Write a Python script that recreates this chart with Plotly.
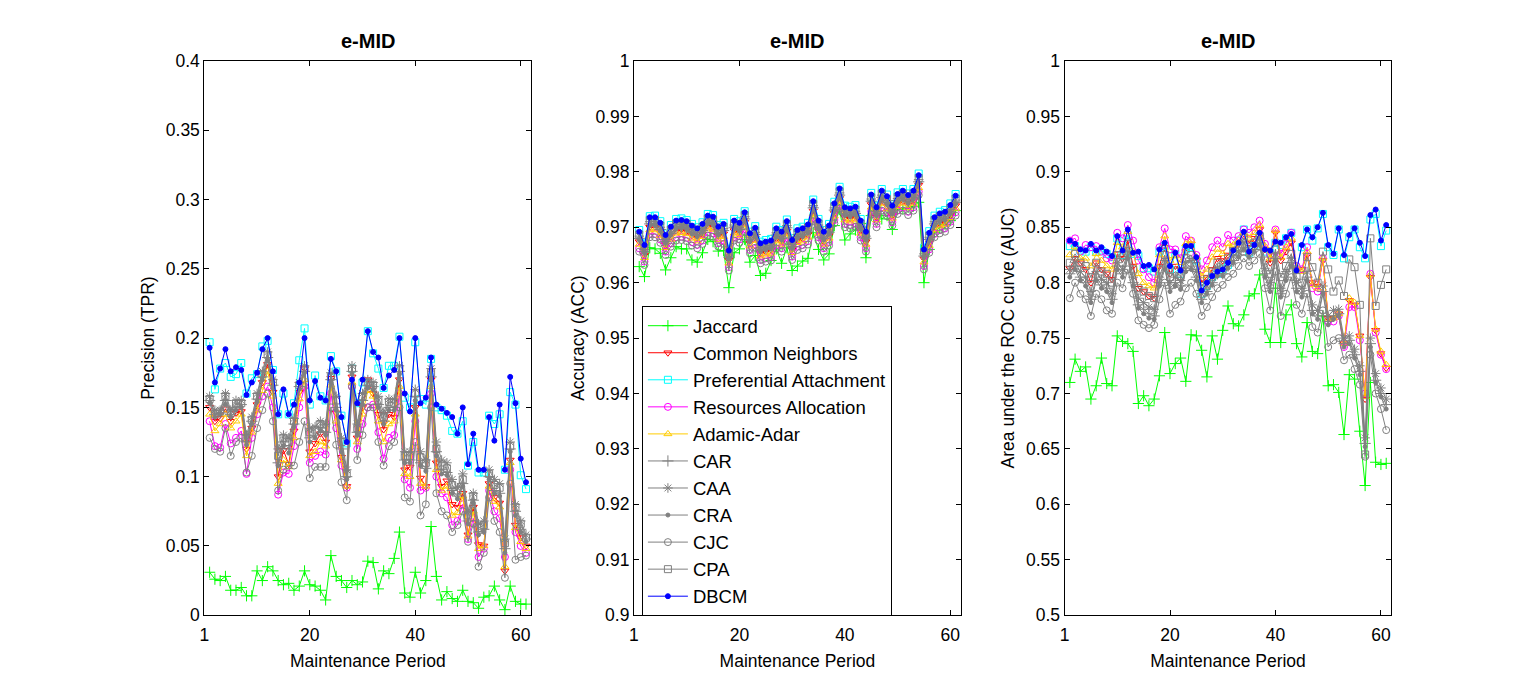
import plotly.graph_objects as go

# x axis: maintenance periods
periods = list(range(1, 62))

methods = ["Jaccard", "Common Neighbors", "Preferential Attachment",
           "Resources Allocation", "Adamic-Adar", "CAR", "CAA", "CRA",
           "CJC", "CPA", "DBCM"]

# ---------------- Precision (TPR) ----------------
prec_jaccard = [0.031, 0.026, 0.025, 0.028, 0.018, 0.018, 0.020, 0.014, 0.014, 0.032,
                0.025, 0.035, 0.032, 0.025, 0.022, 0.023, 0.018, 0.021, 0.032, 0.022,
                0.021, 0.018, 0.011, 0.043, 0.028, 0.025, 0.020, 0.025, 0.022, 0.024,
                0.039, 0.038, 0.019, 0.032, 0.030, 0.041, 0.060, 0.016, 0.013, 0.031,
                0.016, 0.025, 0.064, 0.028, 0.011, 0.017, 0.012, 0.010, 0.018, 0.010,
                0.009, 0.005, 0.013, 0.014, 0.021, 0.011, 0.004, 0.021, 0.010, 0.008, 0.008]
prec_cn = [0.150, 0.140, 0.142, 0.149, 0.140, 0.146, 0.147, 0.120, 0.135, 0.152,
           0.168, 0.181, 0.161, 0.100, 0.119, 0.109, 0.133, 0.161, 0.178, 0.118,
           0.124, 0.131, 0.125, 0.171, 0.146, 0.114, 0.093, 0.172, 0.128, 0.150,
           0.170, 0.160, 0.145, 0.134, 0.145, 0.143, 0.170, 0.105, 0.107, 0.150,
           0.099, 0.093, 0.170, 0.110, 0.093, 0.097, 0.080, 0.078, 0.088, 0.058,
           0.078, 0.051, 0.050, 0.095, 0.085, 0.081, 0.032, 0.112, 0.065, 0.056, 0.050]
prec_pa = [0.197, 0.163, 0.178, 0.182, 0.172, 0.174, 0.182, 0.160, 0.171, 0.174,
           0.194, 0.198, 0.177, 0.145, 0.160, 0.145, 0.153, 0.184, 0.207, 0.152,
           0.173, 0.158, 0.155, 0.187, 0.176, 0.144, 0.124, 0.178, 0.153, 0.168,
           0.205, 0.189, 0.178, 0.164, 0.180, 0.180, 0.201, 0.157, 0.150, 0.197,
           0.156, 0.152, 0.185, 0.150, 0.148, 0.144, 0.133, 0.131, 0.140, 0.108,
           0.125, 0.103, 0.103, 0.144, 0.138, 0.145, 0.105, 0.161, 0.152, 0.101, 0.091]
prec_ra = [0.140, 0.122, 0.121, 0.138, 0.124, 0.128, 0.133, 0.102, 0.128, 0.145,
           0.158, 0.165, 0.150, 0.087, 0.103, 0.102, 0.122, 0.150, 0.165, 0.110,
           0.115, 0.118, 0.116, 0.160, 0.135, 0.108, 0.092, 0.165, 0.120, 0.138,
           0.150, 0.152, 0.132, 0.113, 0.128, 0.130, 0.160, 0.098, 0.092, 0.140,
           0.090, 0.092, 0.160, 0.100, 0.088, 0.085, 0.065, 0.068, 0.080, 0.055,
           0.070, 0.042, 0.048, 0.090, 0.075, 0.070, 0.042, 0.105, 0.060, 0.050, 0.045]
prec_aa = [0.145, 0.133, 0.138, 0.145, 0.135, 0.140, 0.145, 0.115, 0.132, 0.148,
           0.162, 0.176, 0.158, 0.095, 0.112, 0.107, 0.128, 0.156, 0.170, 0.115,
           0.118, 0.125, 0.122, 0.166, 0.140, 0.112, 0.093, 0.168, 0.125, 0.145,
           0.162, 0.158, 0.140, 0.125, 0.138, 0.140, 0.165, 0.102, 0.100, 0.145,
           0.095, 0.093, 0.165, 0.105, 0.090, 0.093, 0.072, 0.074, 0.086, 0.057,
           0.075, 0.048, 0.050, 0.093, 0.082, 0.078, 0.035, 0.110, 0.063, 0.053, 0.048]
prec_car = [0.155, 0.145, 0.146, 0.155, 0.145, 0.150, 0.152, 0.125, 0.140, 0.156,
            0.172, 0.186, 0.166, 0.110, 0.125, 0.120, 0.138, 0.165, 0.176, 0.128,
            0.130, 0.135, 0.132, 0.170, 0.150, 0.120, 0.100, 0.176, 0.132, 0.155,
            0.166, 0.165, 0.152, 0.140, 0.150, 0.150, 0.176, 0.112, 0.112, 0.158,
            0.110, 0.106, 0.172, 0.118, 0.105, 0.103, 0.090, 0.086, 0.095, 0.068,
            0.083, 0.060, 0.062, 0.100, 0.090, 0.088, 0.048, 0.120, 0.075, 0.062, 0.055]
prec_caa = [0.158, 0.148, 0.148, 0.160, 0.148, 0.155, 0.155, 0.130, 0.143, 0.160,
            0.176, 0.190, 0.170, 0.120, 0.130, 0.128, 0.142, 0.168, 0.180, 0.135,
            0.136, 0.140, 0.138, 0.175, 0.158, 0.128, 0.105, 0.180, 0.138, 0.160,
            0.170, 0.168, 0.158, 0.146, 0.156, 0.156, 0.180, 0.118, 0.118, 0.163,
            0.118, 0.112, 0.178, 0.125, 0.112, 0.110, 0.098, 0.092, 0.102, 0.075,
            0.088, 0.066, 0.068, 0.105, 0.098, 0.095, 0.055, 0.125, 0.080, 0.068, 0.058]
prec_cra = [0.153, 0.143, 0.145, 0.152, 0.143, 0.148, 0.150, 0.123, 0.138, 0.154,
            0.170, 0.184, 0.164, 0.108, 0.122, 0.117, 0.136, 0.163, 0.175, 0.125,
            0.128, 0.133, 0.130, 0.168, 0.148, 0.118, 0.098, 0.174, 0.130, 0.152,
            0.164, 0.163, 0.150, 0.138, 0.148, 0.148, 0.174, 0.110, 0.110, 0.155,
            0.108, 0.104, 0.170, 0.115, 0.102, 0.101, 0.088, 0.084, 0.093, 0.066,
            0.081, 0.058, 0.060, 0.098, 0.088, 0.086, 0.045, 0.118, 0.072, 0.060, 0.053]
prec_cjc = [0.128, 0.120, 0.118, 0.135, 0.115, 0.125, 0.128, 0.103, 0.115, 0.135,
            0.148, 0.160, 0.140, 0.090, 0.105, 0.108, 0.108, 0.125, 0.140, 0.099,
            0.107, 0.107, 0.107, 0.150, 0.123, 0.096, 0.083, 0.165, 0.112, 0.130,
            0.150, 0.150, 0.125, 0.108, 0.122, 0.125, 0.150, 0.085, 0.082, 0.125,
            0.072, 0.080, 0.150, 0.088, 0.075, 0.072, 0.060, 0.065, 0.075, 0.053,
            0.066, 0.035, 0.045, 0.085, 0.068, 0.060, 0.027, 0.095, 0.040, 0.042, 0.043]
prec_cpa = [0.156, 0.145, 0.147, 0.158, 0.146, 0.153, 0.153, 0.128, 0.141, 0.158,
            0.174, 0.188, 0.168, 0.115, 0.128, 0.125, 0.140, 0.166, 0.178, 0.132,
            0.134, 0.138, 0.135, 0.172, 0.155, 0.125, 0.102, 0.178, 0.135, 0.158,
            0.168, 0.166, 0.155, 0.143, 0.154, 0.153, 0.178, 0.115, 0.115, 0.160,
            0.114, 0.110, 0.175, 0.120, 0.108, 0.106, 0.094, 0.090, 0.098, 0.072,
            0.086, 0.063, 0.065, 0.102, 0.094, 0.092, 0.052, 0.122, 0.078, 0.066, 0.056]
prec_dbcm = [0.193, 0.168, 0.178, 0.192, 0.176, 0.179, 0.177, 0.159, 0.168, 0.175,
             0.192, 0.200, 0.176, 0.145, 0.163, 0.145, 0.152, 0.168, 0.200, 0.155,
             0.169, 0.157, 0.155, 0.185, 0.176, 0.143, 0.125, 0.170, 0.153, 0.170,
             0.205, 0.190, 0.186, 0.164, 0.173, 0.177, 0.200, 0.160, 0.147, 0.200,
             0.153, 0.157, 0.186, 0.152, 0.149, 0.146, 0.143, 0.131, 0.150, 0.109,
             0.131, 0.105, 0.105, 0.143, 0.126, 0.152, 0.105, 0.172, 0.153, 0.113, 0.096]

# ---------------- Accuracy (ACC) ----------------
acc_jaccard = [0.9629, 0.9611, 0.9663, 0.9661, 0.9653, 0.9623, 0.9645, 0.9665, 0.9661, 0.9661,
               0.9641, 0.9637, 0.9654, 0.9678, 0.9674, 0.9657, 0.9658, 0.9591, 0.9654, 0.9661,
               0.9678, 0.9637, 0.9649, 0.9613, 0.9617, 0.9640, 0.9661, 0.9635, 0.9663, 0.9622,
               0.9630, 0.9639, 0.9644, 0.9690, 0.9660, 0.9641, 0.9652, 0.9703, 0.9732, 0.9677,
               0.9688, 0.9695, 0.9707, 0.9645, 0.9721, 0.9729, 0.9715, 0.9721, 0.9696, 0.9733,
               0.9733, 0.9736, 0.9738, 0.9745, 0.9600, 0.9660, 0.9690, 0.9700, 0.9705, 0.9712, 0.9730]
acc_cn = [0.9674, 0.9650, 0.9700, 0.9700, 0.9690, 0.9668, 0.9683, 0.9694, 0.9696, 0.9693,
          0.9685, 0.9681, 0.9688, 0.9703, 0.9701, 0.9684, 0.9688, 0.9641, 0.9694, 0.9690,
          0.9709, 0.9671, 0.9681, 0.9653, 0.9656, 0.9659, 0.9680, 0.9674, 0.9693, 0.9660,
          0.9677, 0.9680, 0.9687, 0.9729, 0.9694, 0.9674, 0.9685, 0.9725, 0.9752, 0.9718,
          0.9716, 0.9719, 0.9694, 0.9674, 0.9741, 0.9718, 0.9748, 0.9738, 0.9721, 0.9742,
          0.9748, 0.9740, 0.9748, 0.9776, 0.9643, 0.9672, 0.9700, 0.9707, 0.9710, 0.9722, 0.9739]
acc_pa = [0.9695, 0.9671, 0.9720, 0.9721, 0.9711, 0.9689, 0.9704, 0.9715, 0.9716, 0.9713,
          0.9706, 0.9700, 0.9709, 0.9724, 0.9722, 0.9704, 0.9708, 0.9661, 0.9715, 0.9711,
          0.9729, 0.9692, 0.9702, 0.9674, 0.9677, 0.9679, 0.9701, 0.9695, 0.9714, 0.9680,
          0.9698, 0.9701, 0.9708, 0.9750, 0.9715, 0.9695, 0.9706, 0.9746, 0.9773, 0.9739,
          0.9737, 0.9740, 0.9715, 0.9695, 0.9762, 0.9739, 0.9769, 0.9759, 0.9742, 0.9763,
          0.9769, 0.9761, 0.9769, 0.9797, 0.9663, 0.9693, 0.9721, 0.9728, 0.9731, 0.9743, 0.9760]
acc_ra = [0.9662, 0.9638, 0.9688, 0.9688, 0.9678, 0.9656, 0.9671, 0.9682, 0.9683, 0.9681,
          0.9673, 0.9668, 0.9676, 0.9691, 0.9689, 0.9671, 0.9676, 0.9628, 0.9682, 0.9678,
          0.9697, 0.9659, 0.9669, 0.9641, 0.9644, 0.9646, 0.9668, 0.9662, 0.9681, 0.9647,
          0.9665, 0.9668, 0.9675, 0.9717, 0.9682, 0.9662, 0.9673, 0.9713, 0.9740, 0.9706,
          0.9704, 0.9707, 0.9682, 0.9662, 0.9729, 0.9706, 0.9736, 0.9726, 0.9709, 0.9730,
          0.9736, 0.9728, 0.9736, 0.9764, 0.9630, 0.9660, 0.9688, 0.9695, 0.9698, 0.9710, 0.9727]
acc_aa = [0.9669, 0.9645, 0.9695, 0.9695, 0.9685, 0.9663, 0.9678, 0.9689, 0.9690, 0.9688,
          0.9680, 0.9675, 0.9683, 0.9698, 0.9696, 0.9678, 0.9683, 0.9635, 0.9689, 0.9685,
          0.9704, 0.9666, 0.9676, 0.9648, 0.9651, 0.9653, 0.9675, 0.9669, 0.9688, 0.9654,
          0.9672, 0.9675, 0.9682, 0.9724, 0.9689, 0.9669, 0.9680, 0.9720, 0.9747, 0.9713,
          0.9711, 0.9714, 0.9689, 0.9669, 0.9736, 0.9713, 0.9743, 0.9733, 0.9716, 0.9737,
          0.9743, 0.9735, 0.9743, 0.9771, 0.9637, 0.9667, 0.9695, 0.9702, 0.9705, 0.9717, 0.9734]
acc_car = [0.9680, 0.9656, 0.9706, 0.9706, 0.9696, 0.9674, 0.9689, 0.9700, 0.9701, 0.9699,
           0.9691, 0.9686, 0.9694, 0.9709, 0.9707, 0.9689, 0.9694, 0.9646, 0.9700, 0.9696,
           0.9715, 0.9677, 0.9687, 0.9659, 0.9662, 0.9664, 0.9686, 0.9680, 0.9699, 0.9665,
           0.9683, 0.9686, 0.9693, 0.9735, 0.9700, 0.9680, 0.9691, 0.9731, 0.9758, 0.9724,
           0.9722, 0.9725, 0.9700, 0.9680, 0.9747, 0.9724, 0.9754, 0.9744, 0.9727, 0.9748,
           0.9754, 0.9746, 0.9754, 0.9782, 0.9648, 0.9678, 0.9706, 0.9713, 0.9716, 0.9728, 0.9745]
acc_caa = [0.9684, 0.9660, 0.9710, 0.9710, 0.9700, 0.9678, 0.9693, 0.9704, 0.9705, 0.9703,
           0.9695, 0.9690, 0.9698, 0.9713, 0.9711, 0.9693, 0.9698, 0.9650, 0.9704, 0.9700,
           0.9719, 0.9681, 0.9691, 0.9663, 0.9666, 0.9668, 0.9690, 0.9684, 0.9703, 0.9669,
           0.9687, 0.9690, 0.9697, 0.9739, 0.9704, 0.9684, 0.9695, 0.9735, 0.9762, 0.9728,
           0.9726, 0.9729, 0.9704, 0.9684, 0.9751, 0.9728, 0.9758, 0.9748, 0.9731, 0.9752,
           0.9758, 0.9750, 0.9758, 0.9786, 0.9652, 0.9682, 0.9710, 0.9717, 0.9720, 0.9732, 0.9749]
acc_cra = [0.9677, 0.9653, 0.9703, 0.9703, 0.9693, 0.9671, 0.9686, 0.9697, 0.9698, 0.9696,
           0.9688, 0.9683, 0.9691, 0.9706, 0.9704, 0.9686, 0.9691, 0.9643, 0.9697, 0.9693,
           0.9712, 0.9674, 0.9684, 0.9656, 0.9659, 0.9661, 0.9683, 0.9677, 0.9696, 0.9662,
           0.9680, 0.9683, 0.9690, 0.9732, 0.9697, 0.9677, 0.9688, 0.9728, 0.9755, 0.9721,
           0.9719, 0.9722, 0.9697, 0.9677, 0.9744, 0.9721, 0.9751, 0.9741, 0.9724, 0.9745,
           0.9751, 0.9743, 0.9751, 0.9779, 0.9645, 0.9675, 0.9703, 0.9710, 0.9713, 0.9725, 0.9742]
acc_cjc = [0.9656, 0.9632, 0.9682, 0.9682, 0.9672, 0.9650, 0.9665, 0.9676, 0.9677, 0.9675,
           0.9667, 0.9662, 0.9670, 0.9685, 0.9683, 0.9665, 0.9670, 0.9622, 0.9676, 0.9672,
           0.9691, 0.9653, 0.9663, 0.9635, 0.9638, 0.9640, 0.9662, 0.9656, 0.9675, 0.9641,
           0.9659, 0.9662, 0.9669, 0.9711, 0.9676, 0.9656, 0.9667, 0.9707, 0.9734, 0.9700,
           0.9698, 0.9701, 0.9676, 0.9656, 0.9723, 0.9700, 0.9730, 0.9720, 0.9703, 0.9724,
           0.9730, 0.9722, 0.9730, 0.9758, 0.9624, 0.9654, 0.9682, 0.9689, 0.9692, 0.9704, 0.9721]
acc_cpa = [0.9687, 0.9663, 0.9713, 0.9713, 0.9703, 0.9681, 0.9696, 0.9707, 0.9708, 0.9706,
           0.9698, 0.9693, 0.9701, 0.9716, 0.9714, 0.9696, 0.9701, 0.9653, 0.9707, 0.9703,
           0.9722, 0.9684, 0.9694, 0.9666, 0.9669, 0.9671, 0.9693, 0.9687, 0.9706, 0.9672,
           0.9690, 0.9693, 0.9700, 0.9742, 0.9707, 0.9687, 0.9698, 0.9738, 0.9765, 0.9731,
           0.9729, 0.9732, 0.9707, 0.9687, 0.9754, 0.9731, 0.9761, 0.9751, 0.9734, 0.9755,
           0.9761, 0.9753, 0.9761, 0.9789, 0.9655, 0.9685, 0.9713, 0.9720, 0.9723, 0.9735, 0.9752]
acc_dbcm = [0.9692, 0.9668, 0.9718, 0.9718, 0.9708, 0.9686, 0.9701, 0.9712, 0.9713, 0.9711,
            0.9703, 0.9698, 0.9706, 0.9721, 0.9719, 0.9701, 0.9706, 0.9658, 0.9712, 0.9708,
            0.9727, 0.9689, 0.9699, 0.9671, 0.9674, 0.9676, 0.9698, 0.9692, 0.9711, 0.9677,
            0.9695, 0.9698, 0.9705, 0.9747, 0.9712, 0.9692, 0.9703, 0.9743, 0.9770, 0.9736,
            0.9734, 0.9737, 0.9712, 0.9692, 0.9759, 0.9736, 0.9766, 0.9756, 0.9739, 0.9760,
            0.9766, 0.9758, 0.9766, 0.9794, 0.9660, 0.9690, 0.9718, 0.9725, 0.9728, 0.9740, 0.9757]

# ---------------- AUC ----------------
auc_jaccard = [0.710, 0.731, 0.720, 0.724, 0.695, 0.707, 0.732, 0.709, 0.707, 0.752,
               0.747, 0.745, 0.738, 0.691, 0.698, 0.689, 0.695, 0.716, 0.755, 0.718,
               0.727, 0.732, 0.711, 0.753, 0.752, 0.739, 0.715, 0.752, 0.731, 0.757,
               0.779, 0.763, 0.761, 0.771, 0.788, 0.790, 0.807, 0.758, 0.746, 0.795,
               0.746, 0.771, 0.780, 0.745, 0.733, 0.764, 0.738, 0.736, 0.770, 0.707,
               0.708, 0.701, 0.663, 0.717, 0.713, 0.666, 0.617, 0.710, 0.638, 0.636, 0.637]
auc_cn = [0.813, 0.822, 0.818, 0.812, 0.800, 0.818, 0.812, 0.808, 0.803, 0.826,
          0.822, 0.838, 0.815, 0.795, 0.792, 0.788, 0.786, 0.815, 0.832, 0.808,
          0.815, 0.812, 0.828, 0.835, 0.820, 0.800, 0.805, 0.812, 0.822, 0.820,
          0.825, 0.830, 0.835, 0.842, 0.836, 0.840, 0.848, 0.830, 0.818, 0.845,
          0.820, 0.828, 0.836, 0.812, 0.812, 0.825, 0.800, 0.797, 0.820, 0.768,
          0.768, 0.772, 0.745, 0.784, 0.780, 0.752, 0.695, 0.805, 0.757, 0.736, 0.723]
auc_pa = [0.833, 0.833, 0.829, 0.828, 0.832, 0.828, 0.829, 0.826, 0.823, 0.840,
          0.825, 0.843, 0.826, 0.824, 0.813, 0.813, 0.810, 0.828, 0.833, 0.812,
          0.826, 0.808, 0.830, 0.832, 0.820, 0.790, 0.797, 0.805, 0.808, 0.812,
          0.816, 0.828, 0.838, 0.848, 0.827, 0.833, 0.842, 0.828, 0.827, 0.836,
          0.834, 0.840, 0.845, 0.812, 0.832, 0.848, 0.838, 0.849, 0.862, 0.832,
          0.825, 0.848, 0.822, 0.841, 0.848, 0.832, 0.822, 0.857, 0.862, 0.833, 0.847]
auc_ra = [0.838, 0.840, 0.828, 0.834, 0.832, 0.833, 0.828, 0.822, 0.820, 0.845,
          0.840, 0.852, 0.838, 0.820, 0.812, 0.805, 0.800, 0.832, 0.849, 0.830,
          0.830, 0.822, 0.842, 0.838, 0.825, 0.812, 0.820, 0.832, 0.838, 0.832,
          0.843, 0.838, 0.842, 0.848, 0.845, 0.850, 0.856, 0.835, 0.825, 0.848,
          0.826, 0.835, 0.845, 0.815, 0.812, 0.832, 0.795, 0.792, 0.822, 0.765,
          0.765, 0.770, 0.742, 0.778, 0.778, 0.748, 0.700, 0.808, 0.755, 0.735, 0.722]
auc_aa = [0.825, 0.832, 0.822, 0.822, 0.815, 0.826, 0.820, 0.815, 0.812, 0.836,
          0.832, 0.846, 0.828, 0.808, 0.800, 0.797, 0.795, 0.825, 0.842, 0.820,
          0.824, 0.818, 0.835, 0.838, 0.823, 0.806, 0.812, 0.823, 0.830, 0.826,
          0.835, 0.834, 0.838, 0.845, 0.840, 0.845, 0.852, 0.833, 0.822, 0.847,
          0.823, 0.832, 0.840, 0.814, 0.810, 0.828, 0.798, 0.795, 0.822, 0.767,
          0.768, 0.772, 0.745, 0.786, 0.782, 0.752, 0.697, 0.807, 0.758, 0.738, 0.726]
auc_car = [0.808, 0.815, 0.805, 0.800, 0.785, 0.805, 0.798, 0.795, 0.785, 0.815,
           0.808, 0.825, 0.800, 0.780, 0.776, 0.772, 0.770, 0.800, 0.815, 0.795,
           0.800, 0.797, 0.813, 0.815, 0.805, 0.785, 0.792, 0.800, 0.808, 0.808,
           0.815, 0.820, 0.825, 0.832, 0.825, 0.830, 0.836, 0.808, 0.795, 0.822,
           0.790, 0.805, 0.818, 0.795, 0.790, 0.805, 0.775, 0.770, 0.792, 0.765,
           0.770, 0.772, 0.745, 0.748, 0.735, 0.720, 0.655, 0.745, 0.712, 0.700, 0.690]
auc_caa = [0.812, 0.818, 0.810, 0.805, 0.792, 0.810, 0.803, 0.800, 0.790, 0.818,
           0.812, 0.828, 0.805, 0.786, 0.782, 0.778, 0.776, 0.805, 0.820, 0.800,
           0.805, 0.802, 0.818, 0.820, 0.810, 0.790, 0.797, 0.805, 0.813, 0.812,
           0.818, 0.824, 0.828, 0.836, 0.828, 0.833, 0.840, 0.813, 0.800, 0.826,
           0.795, 0.810, 0.822, 0.800, 0.795, 0.810, 0.780, 0.775, 0.797, 0.770,
           0.775, 0.776, 0.750, 0.752, 0.740, 0.725, 0.660, 0.750, 0.718, 0.705, 0.695]
auc_cra = [0.805, 0.812, 0.802, 0.797, 0.782, 0.802, 0.795, 0.792, 0.782, 0.812,
           0.805, 0.822, 0.797, 0.777, 0.772, 0.768, 0.767, 0.797, 0.812, 0.792,
           0.797, 0.794, 0.810, 0.812, 0.802, 0.782, 0.790, 0.798, 0.806, 0.806,
           0.813, 0.818, 0.823, 0.830, 0.823, 0.828, 0.834, 0.805, 0.792, 0.820,
           0.787, 0.802, 0.815, 0.792, 0.787, 0.802, 0.772, 0.767, 0.790, 0.762,
           0.767, 0.770, 0.742, 0.745, 0.732, 0.717, 0.652, 0.742, 0.710, 0.697, 0.686]
auc_cjc = [0.786, 0.800, 0.790, 0.785, 0.770, 0.790, 0.785, 0.775, 0.772, 0.800,
           0.795, 0.812, 0.790, 0.766, 0.762, 0.759, 0.762, 0.785, 0.800, 0.772,
           0.780, 0.783, 0.795, 0.800, 0.790, 0.770, 0.778, 0.787, 0.795, 0.798,
           0.805, 0.808, 0.815, 0.822, 0.815, 0.820, 0.826, 0.795, 0.775, 0.810,
           0.770, 0.790, 0.805, 0.780, 0.772, 0.790, 0.760, 0.755, 0.775, 0.742,
           0.748, 0.750, 0.730, 0.735, 0.722, 0.708, 0.643, 0.735, 0.700, 0.686, 0.667]
auc_cpa = [0.818, 0.826, 0.818, 0.815, 0.805, 0.818, 0.810, 0.808, 0.800, 0.825,
           0.818, 0.835, 0.812, 0.795, 0.792, 0.788, 0.786, 0.812, 0.825, 0.805,
           0.810, 0.806, 0.822, 0.825, 0.815, 0.797, 0.803, 0.810, 0.818, 0.816,
           0.822, 0.828, 0.832, 0.840, 0.832, 0.836, 0.842, 0.820, 0.808, 0.830,
           0.805, 0.815, 0.826, 0.805, 0.800, 0.823, 0.814, 0.800, 0.828, 0.812,
           0.792, 0.802, 0.788, 0.821, 0.814, 0.780, 0.645, 0.840, 0.779, 0.798, 0.812]
auc_dbcm = [0.838, 0.835, 0.830, 0.829, 0.835, 0.829, 0.832, 0.828, 0.824, 0.842,
            0.829, 0.848, 0.827, 0.828, 0.815, 0.816, 0.812, 0.830, 0.836, 0.815,
            0.827, 0.811, 0.833, 0.833, 0.823, 0.793, 0.800, 0.806, 0.810, 0.812,
            0.818, 0.829, 0.836, 0.846, 0.828, 0.834, 0.845, 0.830, 0.829, 0.837,
            0.836, 0.841, 0.844, 0.811, 0.834, 0.848, 0.841, 0.850, 0.863, 0.834,
            0.826, 0.849, 0.825, 0.843, 0.849, 0.836, 0.824, 0.861, 0.866, 0.838, 0.852]

# y axis ticks for the three panels
prec_ticks = [0, 0.05, 0.1, 0.15, 0.2, 0.25, 0.3, 0.35, 0.4]
prec_labels = ["0", "0.05", "0.1", "0.15", "0.2", "0.25", "0.3", "0.35", "0.4"]
acc_ticks = [0.9, 0.91, 0.92, 0.93, 0.94, 0.95, 0.96, 0.97, 0.98, 0.99, 1]
acc_labels = ["0.9", "0.91", "0.92", "0.93", "0.94", "0.95", "0.96", "0.97", "0.98", "0.99", "1"]
auc_ticks = [0.5, 0.55, 0.6, 0.65, 0.7, 0.75, 0.8, 0.85, 0.9, 0.95, 1]
auc_labels = ["0.5", "0.55", "0.6", "0.65", "0.7", "0.75", "0.8", "0.85", "0.9", "0.95", "1"]
# the left edge tick carries the label "1"
period_ticks = [0, 20, 40, 60]
period_labels = ["1", "20", "40", "60"]

# MATLAB-like line styles for each method
styles = {
    "Jaccard": ("#00ff00", "cross-thin-open", 8),
    "Common Neighbors": ("#ff0000", "triangle-down-open", 7),
    "Preferential Attachment": ("#00ffff", "square-open", 7),
    "Resources Allocation": ("#ff00ff", "circle-open", 7),
    "Adamic-Adar": ("#ffcc00", "triangle-up-open", 7),
    "CAR": ("#808080", "cross-thin-open", 8),
    "CAA": ("#808080", "asterisk-open", 8),
    "CRA": ("#808080", "circle", 4),
    "CJC": ("#808080", "circle-open", 7),
    "CPA": ("#808080", "square-open", 7),
    "DBCM": ("#0000ff", "circle", 5),
}

panels = [
    ("x", "y", [prec_jaccard, prec_cn, prec_pa, prec_ra, prec_aa, prec_car,
                prec_caa, prec_cra, prec_cjc, prec_cpa, prec_dbcm], False),
    ("x2", "y2", [acc_jaccard, acc_cn, acc_pa, acc_ra, acc_aa, acc_car,
                  acc_caa, acc_cra, acc_cjc, acc_cpa, acc_dbcm], True),
    ("x3", "y3", [auc_jaccard, auc_cn, auc_pa, auc_ra, auc_aa, auc_car,
                  auc_caa, auc_cra, auc_cjc, auc_cpa, auc_dbcm], False),
]

fig = go.Figure()
for xa, ya, series, show in panels:
    for name, vals in zip(methods, series):
        color, symbol, size = styles[name]
        fig.add_trace(go.Scatter(
            x=periods, y=vals, xaxis=xa, yaxis=ya, name=name,
            mode="lines+markers", legendgroup=name, showlegend=show,
            line=dict(color=color, width=1),
            marker=dict(symbol=symbol, size=size, color=color,
                        line=dict(color=color, width=1)),
        ))

font = "Liberation Sans, Arial, sans-serif"
axis_style = dict(showline=True, linecolor="black", linewidth=1, mirror="ticks",
                  ticks="inside", ticklen=5, tickcolor="black", showgrid=False,
                  zeroline=False, tickfont=dict(family=font, size=17.5, color="black"))

domains = [[200 / 1537, 528 / 1537], [631 / 1537, 959 / 1537], [1063 / 1537, 1391 / 1537]]
ydom = [0.11, 0.925]

layout = dict(
    width=1537, height=700,
    margin=dict(l=0, r=0, t=0, b=0),
    paper_bgcolor="white", plot_bgcolor="white",
    font=dict(family=font, size=17.5, color="black"),
    legend=dict(x=639 / 1537, y=(700 - 624) / 700, xanchor="left", yanchor="bottom",
                bgcolor="white", bordercolor="black", borderwidth=1,
                font=dict(family=font, size=18.5, color="black"),
                tracegroupgap=0, itemwidth=40),
)
ytitles = ["Precision (TPR)", "Accuracy (ACC)", "Area under the ROC curve (AUC)"]
yranges = [[0, 0.4], [0.9, 1], [0.5, 1]]
yticks = [(prec_ticks, prec_labels), (acc_ticks, acc_labels), (auc_ticks, auc_labels)]
for k in range(3):
    sfx = "" if k == 0 else str(k + 1)
    layout["xaxis" + sfx] = dict(axis_style, domain=domains[k], range=[0, 62],
                                 tickvals=period_ticks, ticktext=period_labels,
                                 anchor="y" + sfx, ticklabelstandoff=4,
                                 title=dict(text="Maintenance Period", standoff=10,
                                            font=dict(family=font, size=17.5)))
    layout["yaxis" + sfx] = dict(axis_style, domain=ydom, range=yranges[k],
                                 tickvals=yticks[k][0], ticktext=yticks[k][1],
                                 anchor="x" + sfx,
                                 title=dict(text=ytitles[k], standoff=6,
                                            font=dict(family=font, size=17.5)))
fig.update_layout(**layout)

# panel titles
for d in domains:
    fig.add_annotation(text="<b>e-MID</b>", x=(d[0] + d[1]) / 2, y=1 - 32 / 700,
                       xref="paper", yref="paper", showarrow=False,
                       xanchor="center", yanchor="middle",
                       font=dict(family=font, size=20, color="black"))

fig.write_html("out.html", config={"displayModeBar": False},
               post_script="document.body.style.margin='0';")
